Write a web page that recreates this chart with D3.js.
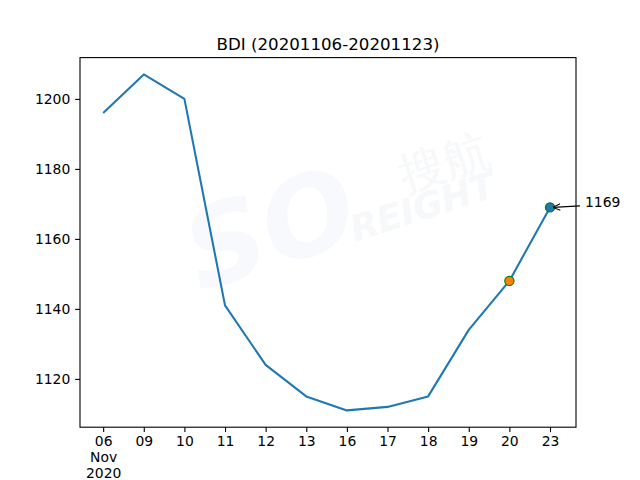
<!DOCTYPE html>
<html><head><meta charset="utf-8">
<script src="https://cdn.jsdelivr.net/npm/d3@7"></script>
<style>body{margin:0;background:#fff}svg{display:block}text{font-family:"DejaVu Sans",sans-serif}</style>
</head><body>
<svg id="c" width="640" height="480"></svg>
<script>
const dates = ["06","09","10","11","12","13","16","17","18","19","20","23"];
const tickLabels = ["06\nNov\n2020","09","10","11","12","13","16","17","18","19","20","23"];
const values = [1196,1207,1200,1141,1124,1115,1111,1112,1115,1134,1148,1169];
const yTicks = [1120,1140,1160,1180,1200];
const titleText = "BDI (20201106-20201123)";
const highlightIdx = [10, 11];
const highlightFill = ["#ff7f0e", "#1f77b4"];

const svg = d3.select("#c");
const L=80,R=576,T=57.6,B=427.2;
const n = values.length;
const x = d3.scaleLinear().domain([-0.57, n-1+0.64]).range([L,R]);
const ymin=d3.min(values), ymax=d3.max(values), pad=(ymax-ymin)*0.05;
const y = d3.scaleLinear().domain([ymin-pad, ymax+pad]).range([B,T]);

// watermark
const wm = svg.append("g").attr("fill","#f6f8fa");
wm.append("text").attr("transform","translate(405,192) rotate(-18)").attr("font-size",46)
  .attr("font-family","Noto Sans CJK SC").text("搜航");
wm.append("text").attr("transform","translate(355,242) rotate(-18)").attr("font-size",36)
  .attr("font-weight","bold").attr("font-style","italic").text("REIGHT");
wm.append("text").attr("transform","translate(200,292) rotate(-18)").attr("font-size",110)
  .attr("font-weight","bold").attr("font-style","italic").attr("fill","#f7f9fc").text("SO");

// line
svg.append("path").datum(values)
  .attr("d", d3.line().x((d,i)=>x(i)).y(d=>y(d)))
  .attr("fill","none").attr("stroke","#1f77b4").attr("stroke-width",2.08)
  .attr("stroke-linejoin","round").attr("stroke-linecap","butt");

// markers
highlightIdx.forEach((idx,k)=>{
  svg.append("circle").attr("cx",x(idx)).attr("cy",y(values[idx])).attr("r",4.6)
    .attr("fill",highlightFill[k]).attr("stroke","green").attr("stroke-width",1.2);
});

// annotation
const last = n-1;
const ax = x(last), ay = y(values[last]);
svg.append("defs").append("marker").attr("id","ah").attr("viewBox","0 0 10 10")
  .attr("refX",10).attr("refY",5).attr("markerWidth",8).attr("markerHeight",8)
  .attr("orient","auto").attr("markerUnits","userSpaceOnUse")
  .append("path").attr("d","M1,1 L10,5 L1,9").attr("fill","none").attr("stroke","black").attr("stroke-width",1.3);
svg.append("line").attr("x1",580).attr("y1",ay-1.5).attr("x2",ax+3).attr("y2",ay)
  .attr("stroke","black").attr("stroke-width",1.1).attr("marker-end","url(#ah)");
svg.append("text").attr("x",585).attr("y",ay-0.5).attr("font-size",13.9).text(values[last]);

// axes
const yAxis = d3.axisLeft(y).tickValues(yTicks).tickSize(4.86).tickPadding(4.86).tickFormat(d3.format("d"));
const gy = svg.append("g").attr("transform",`translate(${L},0)`).call(yAxis);
gy.select(".domain").remove();
gy.selectAll("text").attr("font-size",13.9).attr("fill","black").attr("font-family","DejaVu Sans");
gy.selectAll("line").attr("stroke","black").attr("stroke-width",1.1);

const xAxis = d3.axisBottom(x).tickValues(d3.range(n)).tickSize(4.86).tickPadding(4.86).tickFormat(()=>"");
const gx = svg.append("g").attr("transform",`translate(0,${B})`).call(xAxis);
gx.select(".domain").remove();
gx.selectAll("line").attr("stroke","black").attr("stroke-width",1.1);
gx.selectAll(".tick").each(function(d){
  const lines = tickLabels[d].split("\n");
  const t = d3.select(this).append("text").attr("fill","black").attr("font-size",13.9)
    .attr("text-anchor","middle").attr("font-family","DejaVu Sans");
  lines.forEach((s,j)=>t.append("tspan").attr("x",0).attr("y",19.3+j*15.6).text(s));
});

// spines
svg.append("rect").attr("x",L).attr("y",T).attr("width",R-L).attr("height",B-T)
  .attr("fill","none").attr("stroke","black").attr("stroke-width",1.1);

// title
svg.append("text").attr("x",(L+R)/2).attr("y",50).attr("text-anchor","middle")
  .attr("font-size",16.67).text(titleText);
</script>
</body></html>
